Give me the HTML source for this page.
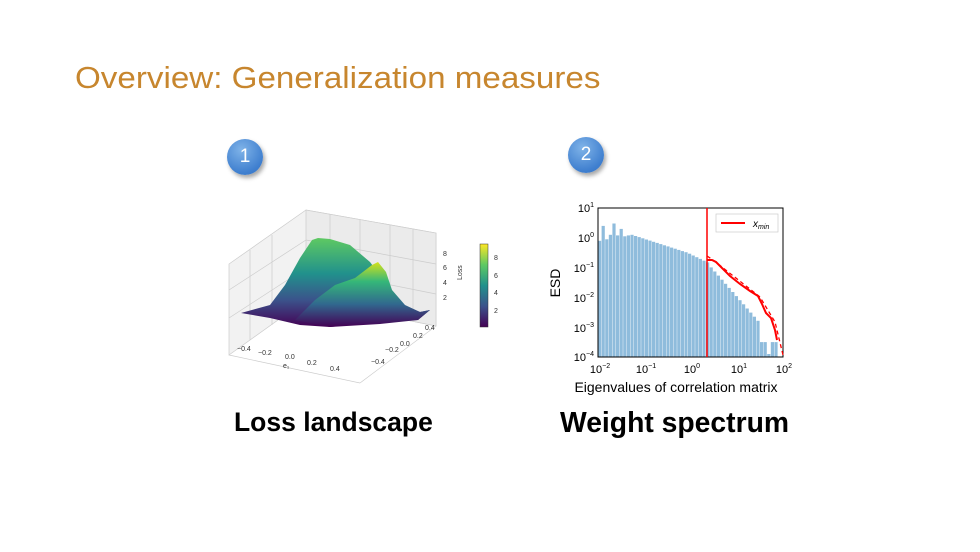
<!DOCTYPE html><html><head><style>
body{margin:0;width:980px;height:552px;background:#fff;overflow:hidden;font-family:"Liberation Sans",sans-serif;position:relative}
.t{position:absolute;left:75px;top:60px;font-size:31px;color:#C7862E;font-family:"Liberation Sans",sans-serif;transform-origin:0 0;transform:scaleX(1.07);white-space:nowrap}
.c{position:absolute;width:36px;height:36px;border-radius:50%;background:radial-gradient(circle at 40% 30%,#7fb3e8,#3f7fcf 70%,#3570c0);box-shadow:2px 3px 4px rgba(0,0,0,.35);color:#fff;font-size:19px;text-align:center;line-height:36px}
.b{position:absolute;font-weight:bold;font-size:28px;color:#000;white-space:nowrap}
</style></head><body>
<div class="t">Overview: Generalization measures</div>
<div class="c" style="left:227px;top:139px">1</div>
<div class="c" style="left:568px;top:137px">2</div>
<div class="b" style="left:234px;top:407px;font-size:26.5px">Loss landscape</div>
<div class="b" style="left:560px;top:406px;font-size:28.3px">Weight spectrum</div>
<svg width="980" height="552" style="position:absolute;left:0;top:0" font-family="Liberation Sans">
<defs>
<linearGradient id="v1" x1="0" y1="1" x2="0" y2="0"><stop offset="0" stop-color="#440154"/><stop offset=".3" stop-color="#3b528b"/><stop offset=".6" stop-color="#21918c"/><stop offset="1" stop-color="#5ec962"/></linearGradient>
<linearGradient id="v2" x1="0" y1="1" x2="0" y2="0"><stop offset="0" stop-color="#440154"/><stop offset=".35" stop-color="#31688e"/><stop offset=".7" stop-color="#35b779"/><stop offset="1" stop-color="#d5e21a"/></linearGradient>
<linearGradient id="cb" x1="0" y1="1" x2="0" y2="0"><stop offset="0" stop-color="#440154"/><stop offset=".25" stop-color="#3b528b"/><stop offset=".5" stop-color="#21918c"/><stop offset=".75" stop-color="#5ec962"/><stop offset="1" stop-color="#fde725"/></linearGradient>
</defs>
<g stroke="#ccc" stroke-width="0.7" fill="none">
<polygon points="229,264 306,210 436,233 436,326 306,300 229,355" fill="#f2f2f2"/>
<polygon points="306,210 306,300 436,326 436,233" fill="#ebebeb"/>
<line x1="229" y1="355" x2="360" y2="383"/><line x1="360" y1="383" x2="436" y2="326"/>
<line x1="229" y1="290" x2="306" y2="240"/><line x1="229" y1="318" x2="306" y2="268"/>
<line x1="306" y1="240" x2="436" y2="264"/><line x1="306" y1="268" x2="436" y2="294"/>
<line x1="250" y1="250" x2="250" y2="340"/><line x1="272" y1="235" x2="272" y2="325"/>
<line x1="330" y1="214" x2="330" y2="305"/><line x1="360" y1="220" x2="360" y2="311"/><line x1="390" y1="225" x2="390" y2="317"/><line x1="413" y1="229" x2="413" y2="321"/>
</g>
<polygon points="241,313 270,305 285,285 300,258 312,240 318,238 330,239 350,245 370,262 385,282 398,303 420,312 430,310 418,320 380,322 330,327 300,325 270,318" fill="url(#v1)"/>
<polygon points="295,320 315,300 335,285 355,278 372,265 378,262 386,272 392,290 405,305 420,312 430,310 418,320 380,324 330,327" fill="url(#v2)"/>
<g font-size="7" fill="#333">
<text x="237" y="351">−0.4</text><text x="258" y="355">−0.2</text><text x="285" y="359">0.0</text><text x="307" y="365">0.2</text><text x="330" y="371">0.4</text>
<text x="283" y="368">e₁</text>
<text x="371" y="364">−0.4</text><text x="385" y="352">−0.2</text><text x="400" y="346">0.0</text><text x="413" y="338">0.2</text><text x="425" y="330">0.4</text>
<text x="443" y="256">8</text><text x="443" y="270">6</text><text x="443" y="285">4</text><text x="443" y="300">2</text>
<text x="462" y="280" transform="rotate(-90 462 280)">Loss</text>
<text x="494" y="260">8</text><text x="494" y="278">6</text><text x="494" y="295">4</text><text x="494" y="313">2</text>
</g>
<rect x="480" y="244" width="8" height="83" fill="url(#cb)" stroke="#333" stroke-width=".5"/>
<g id="bars" fill="#8fbcdc"></g>
<rect x="598" y="208" width="185" height="149" fill="none" stroke="#000" stroke-width="1"/>
<line x1="707" y1="208" x2="707" y2="357" stroke="red" stroke-width="1.5"/>
<polyline id="fit" fill="none" stroke="red" stroke-width="2"/>
<polyline id="fit2" fill="none" stroke="red" stroke-width="1.3" stroke-dasharray="4,3"/>
<rect x="716" y="214" width="62" height="18" fill="#fff" stroke="#ccc" stroke-width=".7"/>
<line x1="721" y1="223" x2="745" y2="223" stroke="red" stroke-width="2"/>
<text x="753" y="227" font-size="10" font-style="italic">x<tspan font-size="7" dy="2">min</tspan></text>
<g font-size="11" fill="#000" text-anchor="end">
<text x="594" y="212">10<tspan font-size="7" dy="-5">1</tspan></text>
<text x="594" y="242">10<tspan font-size="7" dy="-5">0</tspan></text>
<text x="594" y="272">10<tspan font-size="7" dy="-5">−1</tspan></text>
<text x="594" y="302">10<tspan font-size="7" dy="-5">−2</tspan></text>
<text x="594" y="332">10<tspan font-size="7" dy="-5">−3</tspan></text>
<text x="594" y="361">10<tspan font-size="7" dy="-5">−4</tspan></text>
</g>
<g font-size="11" fill="#000" text-anchor="middle">
<text x="600" y="373">10<tspan font-size="7" dy="-5">−2</tspan></text>
<text x="646" y="373">10<tspan font-size="7" dy="-5">−1</tspan></text>
<text x="692" y="373">10<tspan font-size="7" dy="-5">0</tspan></text>
<text x="739" y="373">10<tspan font-size="7" dy="-5">1</tspan></text>
<text x="784" y="373">10<tspan font-size="7" dy="-5">2</tspan></text>
</g>
<text x="676" y="392" font-size="14" text-anchor="middle">Eigenvalues of correlation matrix</text>
<text x="560" y="283" font-size="14" text-anchor="middle" transform="rotate(-90 560 283)">ESD</text>
</svg>
<script>
var X=l=>598+(l+2)*46.25, Y=l=>208+(1-l)*29.8;
var g=document.getElementById('bars'),h='';
var early=[-0.1,0.4,-0.05,0.1,0.48,0.08,0.3,0.05,0.08,0.1];
var w=3.6;
for(var x=598;x<778;x+=w){var lx=(x-598)/46.25-2,ly;var i=Math.round((x-598)/w);
if(i<early.length)ly=early[i];
else if(lx<0.36)ly=0.05-0.55*(lx+1.2)/1.1- (lx>-0.1?0.25*(lx+0.1):0);
else ly=-0.9-1.15*(lx-0.36)/0.65;
if(lx>1.45&&lx<1.6)ly=-3.5;
if(lx>1.6&&lx<1.72)ly=-3.9;
if(lx>1.72&&lx<1.82)ly=-3.5;
if(lx>1.82)ly=-4;
if(ly<-4)ly=-4;
var y=Y(ly);h+='<rect x="'+x.toFixed(1)+'" y="'+y.toFixed(1)+'" width="'+(w-0.4)+'" height="'+(357-y).toFixed(1)+'"/>';}
g.innerHTML=h;
document.getElementById('fit').setAttribute('points','707,260 712,260 716,262 722,268 730,276 740,284 750,291 758,296 762,304 766,313 771,318 775,330 777,340');
document.getElementById('fit2').setAttribute('points','707,256 713,260 760,297 775,322 783,355');
</script>
</body></html>
